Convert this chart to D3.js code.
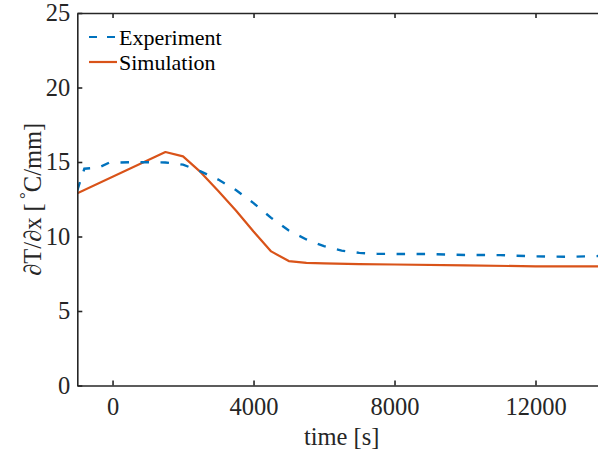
<!DOCTYPE html>
<html>
<head>
<meta charset="utf-8">
<script src="https://cdn.jsdelivr.net/npm/d3@7"></script>
<style>
  html, body { margin: 0; padding: 0; background: #fff; }
  svg { display: block; font-family: "Liberation Serif", "Times New Roman", serif; }
</style>
</head>
<body>
<div id="chart"></div>
<script>
// series (time in s, gradient in degC/mm)
var expTime = [-1000, -800, -400, -100, 500, 1000, 1500, 2000, 2500, 3000, 3500, 4000, 4500, 5000, 5500, 6000, 6500, 7000, 7500, 8000, 9000, 10000, 11000, 12000, 13000, 14000];
var expValue = [13.1, 14.55, 14.62, 14.95, 14.98, 14.98, 14.97, 14.82, 14.37, 13.82, 13.12, 12.24, 11.25, 10.4, 9.8, 9.35, 9.05, 8.9, 8.84, 8.83, 8.82, 8.76, 8.75, 8.67, 8.64, 8.7];

var simTime = [-1000, 1500, 2000, 2500, 3000, 3500, 4000, 4500, 5000, 5500, 6000, 7000, 8000, 10000, 12000, 14000];
var simValue = [12.9, 15.67, 15.38, 14.32, 13.05, 11.75, 10.34, 9.0, 8.35, 8.23, 8.2, 8.15, 8.12, 8.06, 8.0, 8.0];

var xTicks = [0, 4000, 8000, 12000];
var yTicks = [0, 5, 10, 15, 20, 25];
var seriesNames = ['Experiment', 'Simulation'];

var width = 598, height = 455;
var margin = {left: 77.3, top: 13, bottom: 385.5};
var axisColor = '#262626';
var fontSize = '24.5px';

var svg = d3.select('#chart').append('svg')
    .attr('width', width)
    .attr('height', height);

var x = d3.scaleLinear().domain([-1000, 14000]).range([margin.left, 606]);
var y = d3.scaleLinear().domain([0, 25]).range([margin.bottom, margin.top]);

svg.append('clipPath').attr('id', 'plotclip')
  .append('rect')
    .attr('x', x.range()[0]).attr('y', margin.top)
    .attr('width', x.range()[1] - x.range()[0])
    .attr('height', margin.bottom - margin.top);

// lines
var line = d3.line()
    .x(function(d) { return x(d[0]); })
    .y(function(d) { return y(d[1]); });

var plot = svg.append('g').attr('clip-path', 'url(#plotclip)');

plot.append('path')
    .datum(d3.zip(simTime, simValue))
    .attr('d', line)
    .attr('fill', 'none')
    .attr('stroke', '#D95319')
    .attr('stroke-width', 2.2)
    .attr('stroke-linejoin', 'round');

plot.append('path')
    .datum(d3.zip(expTime, expValue))
    .attr('d', line)
    .attr('fill', 'none')
    .attr('stroke', '#0072BD')
    .attr('stroke-width', 2.4)
    .attr('stroke-dasharray', '8.5,11.5');

// axes, ticks point inward like matlab
function styleAxis(g) {
  g.select('.domain').attr('stroke', axisColor).attr('stroke-width', 1.6);
  g.selectAll('.tick line').attr('stroke', axisColor).attr('stroke-width', 1.6);
  g.selectAll('.tick text')
    .attr('fill', '#262626')
    .style('font-family', '"Liberation Serif", "Times New Roman", serif')
    .style('font-size', fontSize);
}

svg.append('g')
    .attr('transform', 'translate(0,' + margin.bottom + ')')
    .call(d3.axisBottom(x).tickValues(xTicks).tickSize(-5).tickSizeOuter(0).tickPadding(12).tickFormat(d3.format('d')))
    .call(styleAxis);

svg.append('g')
    .attr('transform', 'translate(0,' + margin.top + ')')
    .call(d3.axisTop(x).tickValues(xTicks).tickSize(-5).tickSizeOuter(0).tickFormat(''))
    .call(styleAxis);

svg.append('g')
    .attr('transform', 'translate(' + margin.left + ',0)')
    .call(d3.axisLeft(y).tickValues(yTicks).tickSize(-5).tickSizeOuter(0).tickPadding(7))
    .call(styleAxis);

// axis labels
svg.append('text')
    .attr('x', (x.range()[0] + x.range()[1]) / 2)
    .attr('y', 445)
    .attr('text-anchor', 'middle')
    .attr('fill', '#262626')
    .style('font-size', fontSize)
    .text('time [s]');

var ylab = svg.append('text')
    .attr('transform', 'translate(41,' + ((margin.top + margin.bottom) / 2) + ') rotate(-90)')
    .attr('text-anchor', 'middle')
    .attr('fill', '#262626')
    .style('font-size', fontSize);
ylab.append('tspan').text('\u2202T/\u2202x [');
ylab.append('tspan').attr('dy', -10).style('font-size', '17px').text('\u00a0\u00b0');
ylab.append('tspan').attr('dy', 10).text('C/mm]');

// legend
var legend = svg.append('g');
var legendRows = [
  {name: seriesNames[0], color: '#0072BD', dash: '8.5,11.5', y: 37},
  {name: seriesNames[1], color: '#D95319', dash: null, y: 62}
];
legendRows.forEach(function(r) {
  legend.append('line')
      .attr('x1', 89).attr('x2', 117)
      .attr('y1', r.y).attr('y2', r.y)
      .attr('stroke', r.color)
      .attr('stroke-width', 2.2)
      .attr('stroke-dasharray', r.dash ? '8,10' : null);
  legend.append('text')
      .attr('x', 119)
      .attr('y', r.y + 7.5)
      .attr('fill', '#000')
      .style('font-size', '22px')
      .text(r.name);
});
</script>
</body>
</html>
